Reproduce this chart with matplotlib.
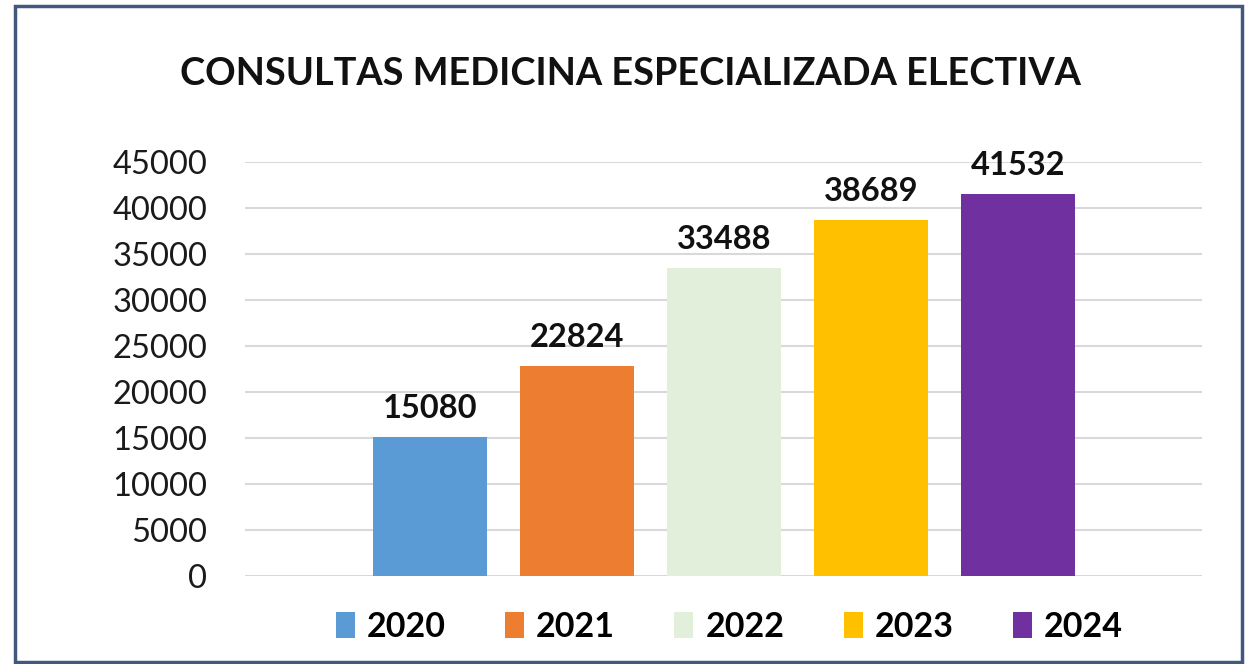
import matplotlib.pyplot as plt
from matplotlib.patches import Rectangle

# data
years = ['2020', '2021', '2022', '2023', '2024']
consultas = [15080, 22824, 33488, 38689, 41532]
colors = ['#5b9bd5', '#ed7d31', '#e2efda', '#ffc000', '#7030a0']
yticks = list(range(0, 45001, 5000))

plt.rcParams['font.family'] = ['Lato', 'DejaVu Sans']

fig = plt.figure(figsize=(12.49, 6.64), dpi=100)
ax = fig.add_axes([0.196, 0.1325, 0.766, 0.6235])

x = list(range(len(years)))
bars = ax.bar(x, consultas, width=0.78, color=colors, label=years, zorder=3)

for xi, v in zip(x, consultas):
    ax.text(xi, v + 1500, str(v), ha='center', va='bottom', fontsize=23.5,
            fontweight='bold', color='#111111', clip_on=False)

ax.set_xlim(-1.26, 5.25)
ax.set_ylim(0, 45000)
ax.set_yticks(yticks)
ax.set_yticklabels([str(t) for t in yticks], fontsize=23.5, color='#1a1a1a')
ax.set_xticks([])
ax.yaxis.grid(True, color='#d9d9d9', linewidth=1.5, zorder=0)
ax.tick_params(axis='y', length=0, pad=27)
for s in ax.spines.values():
    s.set_visible(False)

fig.text(0.505, 0.889, 'CONSULTAS MEDICINA ESPECIALIZADA ELECTIVA', ha='center',
         va='center', fontsize=27.3, fontweight='bold', color='#111111')

leg = fig.legend(bars, years, ncol=5, loc='center left', bbox_to_anchor=(336 / 1249, 0.0557),
                 frameon=False, fontsize=24.5, handlelength=0.56, handleheight=0.8,
                 handletextpad=0.35, columnspacing=1.74, borderpad=0, borderaxespad=0)
for t in leg.get_texts():
    t.set_fontweight('bold')

fig.patches.append(Rectangle((0.012, 0.003), 0.982, 0.988, transform=fig.transFigure,
                             fill=False, edgecolor='#44587e', linewidth=2.5))

fig.savefig('out.png', dpi=100, facecolor='white')
